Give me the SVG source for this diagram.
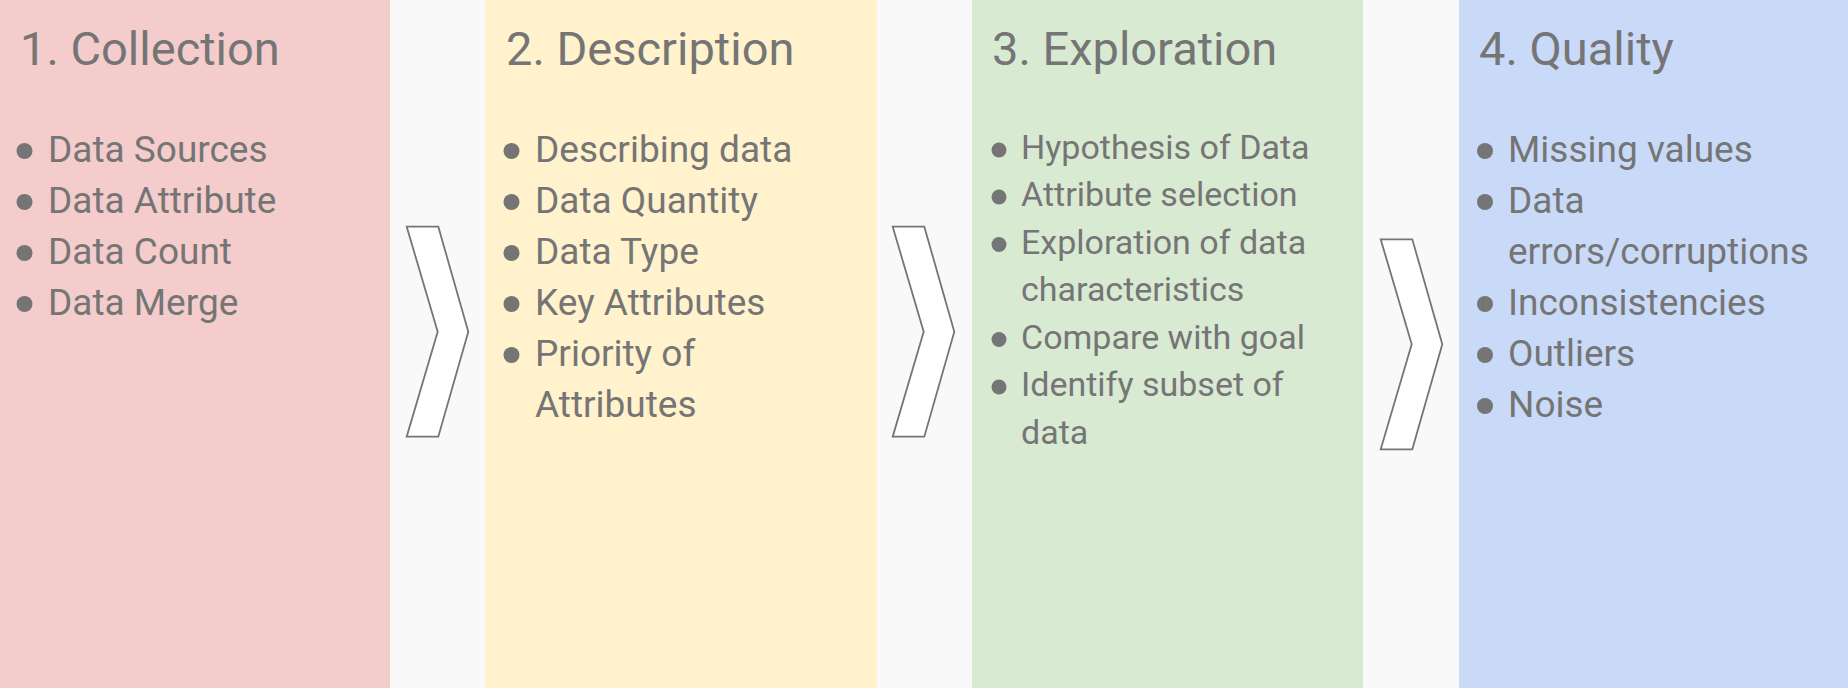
<svg xmlns="http://www.w3.org/2000/svg" width="1848" height="688" viewBox="0 0 1848 688">
<style>
.bg{fill:#f9f9f9}
.title{font-family:Roboto,"Liberation Sans",sans-serif;font-size:47px;fill:#757575}
.item{font-family:Roboto,"Liberation Sans",sans-serif;font-size:37px;fill:#757575}
.item3{font-family:Roboto,"Liberation Sans",sans-serif;font-size:34px;fill:#757575}
.dot{fill:#757575}
.chev{fill:#ffffff;stroke:#757575;stroke-width:1.8;stroke-linejoin:miter}
</style>
<defs>
<polygon id="chevron" points="406.7,226.7 438.3,226.7 468.3,331.7 438.3,436.7 406.7,436.7 437.7,331.7"/>
</defs>
<rect class="bg" x="0" y="0" width="1848" height="688"/>
<g id="collection">
<rect x="0" y="0" width="390" height="688" fill="#f4cccc"/>
<text class="title" x="20" y="65">1. Collection</text>
<circle class="dot" cx="24.5" cy="151" r="8"/><text class="item" x="48" y="162">Data Sources</text>
<circle class="dot" cx="24.5" cy="202" r="8"/><text class="item" x="48" y="213">Data Attribute</text>
<circle class="dot" cx="24.5" cy="253" r="8"/><text class="item" x="48" y="264">Data Count</text>
<circle class="dot" cx="24.5" cy="304" r="8"/><text class="item" x="48" y="315">Data Merge</text>
</g>
<g id="description">
<rect x="485" y="0" width="392" height="688" fill="#fff2cc"/>
<text class="title" x="506" y="65">2. Description</text>
<circle class="dot" cx="511.5" cy="151" r="8"/><text class="item" x="535" y="162">Describing data</text>
<circle class="dot" cx="511.5" cy="202" r="8"/><text class="item" x="535" y="213">Data Quantity</text>
<circle class="dot" cx="511.5" cy="253" r="8"/><text class="item" x="535" y="264">Data Type</text>
<circle class="dot" cx="511.5" cy="304" r="8"/><text class="item" x="535" y="315">Key Attributes</text>
<circle class="dot" cx="511.5" cy="355" r="8"/><text class="item" x="535" y="366">Priority of</text>
<text class="item" x="535" y="417">Attributes</text>
</g>
<g id="exploration">
<rect x="972" y="0" width="391" height="688" fill="#d9ead3"/>
<text class="title" x="992" y="65">3. Exploration</text>
<circle class="dot" cx="999" cy="150" r="7.5"/><text class="item3" x="1021" y="159">Hypothesis of Data</text>
<circle class="dot" cx="999" cy="197" r="7.5"/><text class="item3" x="1021" y="206">Attribute selection</text>
<circle class="dot" cx="999" cy="244.5" r="7.5"/><text class="item3" x="1021" y="253.5">Exploration of data</text>
<text class="item3" x="1021" y="301">characteristics</text>
<circle class="dot" cx="999" cy="339.5" r="7.5"/><text class="item3" x="1021" y="348.5">Compare with goal</text>
<circle class="dot" cx="999" cy="387" r="7.5"/><text class="item3" x="1021" y="396">Identify subset of</text>
<text class="item3" x="1021" y="443.5">data</text>
</g>
<g id="quality">
<rect x="1459" y="0" width="389" height="688" fill="#c9daf8"/>
<text class="title" x="1479" y="65">4. Quality</text>
<circle class="dot" cx="1485" cy="151" r="8"/><text class="item" x="1508" y="162">Missing values</text>
<circle class="dot" cx="1485" cy="202" r="8"/><text class="item" x="1508" y="213">Data</text>
<text class="item" x="1508" y="264">errors/corruptions</text>
<circle class="dot" cx="1485" cy="304" r="8"/><text class="item" x="1508" y="315">Inconsistencies</text>
<circle class="dot" cx="1485" cy="355" r="8"/><text class="item" x="1508" y="366">Outliers</text>
<circle class="dot" cx="1485" cy="406" r="8"/><text class="item" x="1508" y="417">Noise</text>
</g>
<g id="connectors">
<use href="#chevron" class="chev"/>
<use href="#chevron" class="chev" transform="translate(486,0)"/>
<use href="#chevron" class="chev" transform="translate(974,12.6)"/>
</g>
</svg>
